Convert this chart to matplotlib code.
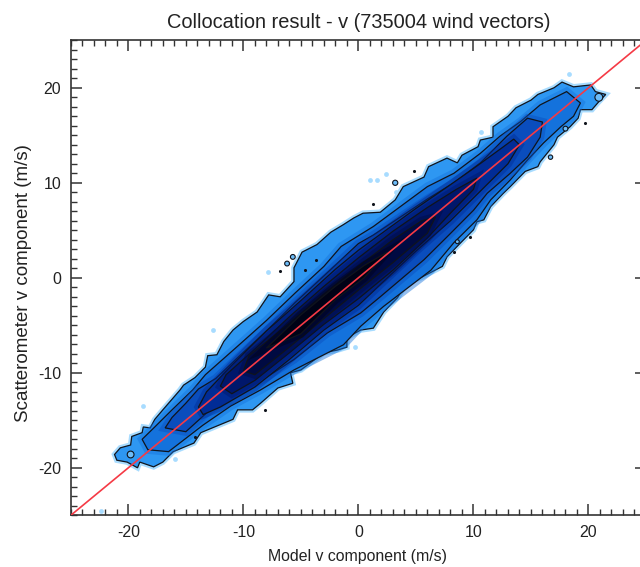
import matplotlib
matplotlib.use("Agg")
import matplotlib.pyplot as plt
from matplotlib.ticker import MultipleLocator

# density contours, each one is a closed outline (m/s)
level1_x = [-21.2, -20.7, -19.8, -19.7, -18.8, -18.7, -18.1, -17.7, -17.0, -16.5, -15.5, -15.2, -14.2, -13.3,
            -13.1, -12.3, -11.7, -10.9, -10.0, -8.8, -7.8, -6.8, -5.6, -5.6, -4.9, -3.6, -2.4, -1.3, -0.4, 0.4,
            1.9, 3.2, 3.9, 5.7, 6.1, 7.7, 8.6, 9.0, 10.4, 10.6, 11.7, 11.7, 13.0, 13.7, 15.0, 15.6, 17.0, 17.7,
            18.7, 20.2, 20.6, 21.5, 20.8, 20.3, 19.3, 19.1, 18.4, 17.3, 17.0, 15.8, 15.6, 14.5, 13.2, 12.6, 11.5,
            10.9, 10.3, 10.0, 8.9, 7.7, 7.3, 5.4, 4.8, 4.1, 3.4, 2.2, 1.3, 0.2, -1.0, -1.0, -1.8, -3.0, -5.0,
            -5.9, -5.7, -7.0, -8.5, -9.2, -10.5, -10.9, -11.7, -13.7, -14.3, -16.1, -17.0, -17.8, -19.0, -19.2,
            -20.1, -21.0]
level1_y = [-18.6, -17.9, -17.6, -16.7, -16.3, -15.7, -15.8, -14.9, -13.9, -13.2, -11.8, -11.3, -10.5, -9.4,
            -8.2, -8.1, -6.7, -5.5, -4.6, -3.6, -1.8, -2.0, -0.4, 1.05, 2.7, 3.5, 4.8, 5.6, 6.3, 6.8,
            6.9, 8.2, 9.6, 10.6, 11.7, 12.6, 12.1, 12.9, 13.8, 14.5, 14.8, 15.9, 17.0, 17.9, 18.7, 19.3, 20.0, 20.6,
            20.1, 20.3, 19.6, 19.3, 18.4, 17.7, 17.7, 16.8, 15.9, 14.8, 14.0, 12.2, 11.7, 11.2, 9.6, 8.9, 7.5,
            6.1, 5.9, 5.05, 3.7, 2.2, 1.2, 0.0, -0.2, -0.7, -2.1, -3.6, -5.3, -5.5, -6.3, -7.3, -7.6, -7.9, -9.7,
            -10.0, -11.1, -11.6, -13.2, -13.9, -13.9, -14.9, -15.3, -16.3, -17.4, -18.3, -19.4, -19.9, -19.4, -20.0,
            -19.4, -19.2]

level2_x = [-18.3, -18.8, -17.7, -16.2, -14.4, -13.3, -10.5, -8.0, -5.5, -3.0, -1.5, 1.3, 3.65, 6.0, 8.3, 10.6,
            12.3, 14.1, 15.8, 18.1, 19.3, 18.7, 17.6, 16.1, 14.7, 13.2, 11.5, 10.3, 8.3, 6.3, 2.2, 0.2, -1.3, -5.6,
            -8.5, -11.1, -13.5, -16.5]
level2_y = [-18.1, -17.0, -15.7, -13.9, -11.8, -10.2, -7.2, -4.5, -1.6, 1.2, 3.3, 5.4, 7.5, 9.6, 11.0, 13.1,
            14.9, 16.45, 18.2, 19.6, 18.4, 17.0, 15.9, 14.2, 12.4, 10.3, 8.2, 6.1, 3.7, 0.8, -3.0, -5.1, -7.05, -9.7,
            -11.8, -13.5, -15.5, -18.3]

level3_x = [-16.8, -16.2, -15.0, -13.9, -12.4, -10.5, -8.0, -5.5, -3.0, 0.0, 1.3, 3.65, 6.0, 8.3, 10.6, 12.9,
            14.7, 16.0, 15.8, 14.7, 13.2, 11.2, 10.0, 7.7, 5.7, 1.9, 0.2, -2.7, -5.6, -7.9, -10.5, -12.9, -15.0]
level3_y = [-15.8, -14.7, -13.2, -11.7, -10.6, -8.4, -5.6, -2.6, 0.2, 3.6, 4.5, 6.4, 8.3, 10.0, 12.1, 14.9,
            16.8, 16.4, 14.8, 12.7, 11.0, 8.9, 7.1, 4.3, 1.9, -2.0, -3.7, -5.8, -8.6, -10.4, -12.1, -13.9, -16.2]

level4_x = [-13.9, -13.2, -11.0, -8.0, -5.0, -2.0, 0.0, 5.0, 8.0, 10.0, 12.5, 13.5, 14.0, 13.0, 11.0, 8.0, 5.0,
            2.0, 0.0, -3.0, -6.0, -9.0, -12.0, -13.5]
level4_y = [-13.6, -12.0, -9.2, -5.6, -2.4, 0.9, 2.9, 7.3, 9.8, 11.5, 13.7, 14.6, 14.0, 12.0, 9.6, 6.0, 2.8,
            -0.6, -2.9, -5.5, -8.6, -11.5, -13.6, -14.4]

level5_x = [-12.0, -11.5, -9.0, -6.0, -3.0, 0.0, 3.0, 6.0, 8.5, 10.3, 10.0, 8.0, 6.0, 3.0, 0.0, -3.0, -6.0, -9.0, -11.0]
level5_y = [-11.4, -10.2, -7.5, -4.1, -0.9, 2.1, 4.9, 7.4, 9.3, 10.5, 9.3, 6.8, 4.2, 0.8, -2.2, -4.9, -7.9, -10.8, -12.2]

level6_x = [-10.0, -9.5, -6.0, -3.0, 0.0, 3.0, 5.5, 6.7, 6.0, 3.0, 0.0, -3.0, -6.0, -9.0]
level6_y = [-9.8, -8.2, -4.8, -1.7, 1.2, 4.0, 6.0, 6.4, 4.7, 1.6, -1.3, -4.3, -7.3, -10.2]

level7_x = [-8.0, -5.0, -2.0, 0.5, 2.5, 0.5, -2.0, -5.0]
level7_y = [-7.4, -3.9, -0.9, 1.3, 2.7, 0.0, -2.3, -5.9]

# isolated low count bins outside the main cloud
speckle_x = [1.0, 1.6, 2.4, 3.3, -0.3, -7.9, -12.6, -14.2, -18.7, -15.9, -22.4, 10.7, 4.8, 18.3, 6.8]
speckle_y = [10.3, 10.3, 10.9, 9.0, -7.3, 0.6, -5.5, -11.1, -13.5, -19.1, -24.5, 15.3, 4.4, 21.5, 4.0]
dot_x = [4.8, 1.3, 8.3, 9.7, 19.7, -6.8, -4.6, -3.7, -8.1, -14.2]
dot_y = [11.2, 7.8, 2.7, 4.3, 16.3, 0.7, 0.8, 1.9, -13.9, -16.8]
ring_x = [3.2, 20.9, -19.8, 16.7, -6.2, -5.7, 8.6, 18.0]
ring_y = [10.0, 19.0, -18.6, 12.7, 1.5, 2.2, 3.8, 15.7]
ring_size = [14, 32, 24, 10, 12, 12, 8, 12]

levels = [(level1_x, level1_y), (level2_x, level2_y), (level3_x, level3_y), (level4_x, level4_y),
          (level5_x, level5_y), (level6_x, level6_y), (level7_x, level7_y)]
level_colors = ["#2e97f2", "#1472dc", "#0a4dbd", "#012c96", "#00176b", "#000a42", "#000216"]

major_ticks = [-20, -10, 0, 10, 20]
tick_labels = ["-20", "-10", "0", "10", "20"]

plt.rcParams["font.family"] = ["Liberation Sans", "DejaVu Sans"]

fig = plt.figure(figsize=(6.4, 5.67), dpi=100)
# right spine falls just outside the saved image, same as the reference
ax = fig.add_axes([70.8 / 640, 51.7 / 567, 575.2 / 640, 475 / 567])

ax.scatter(speckle_x, speckle_y, s=12, color="#a8dcff", linewidths=0, zorder=1)
ax.fill(level1_x, level1_y, facecolor="none", edgecolor="#a8dcff", linewidth=4.0, zorder=1)

for i, (xs, ys) in enumerate(levels):
    # wide soft stroke first so neighbouring bands blend a bit, the original is smoothed
    if i > 0:
        ax.fill(xs, ys, facecolor="none", edgecolor=level_colors[i], alpha=0.45, linewidth=6, zorder=2 + i)
    ax.fill(xs, ys, facecolor=level_colors[i], edgecolor="#10141c", linewidth=0.9, zorder=2 + i)

ax.scatter(ring_x, ring_y, s=ring_size, facecolor="#6cbcf8", edgecolor="#10141c", linewidths=0.8, zorder=9)
ax.scatter(dot_x, dot_y, s=5, color="#10141c", linewidths=0, zorder=9)

ax.plot([-25, 25], [-25, 25], color="#f53a45", linewidth=1.2, zorder=10)

ax.set_xlim(-25, 25)
ax.set_ylim(-25, 25)
ax.set_xticks(major_ticks)
ax.set_xticklabels(tick_labels)
ax.set_yticks(major_ticks)
ax.set_yticklabels(tick_labels)
ax.xaxis.set_minor_locator(MultipleLocator(1))
ax.yaxis.set_minor_locator(MultipleLocator(1))
ax.tick_params(which="major", direction="in", length=8, width=1.1, color="#333333",
               top=True, right=True, labelsize=11.5, pad=7, labelcolor="#222222")
ax.tick_params(which="minor", direction="in", length=4, width=1.0, color="#333333", top=True, right=True)
for spine in ax.spines.values():
    spine.set_linewidth(1.2)
    spine.set_color("#333333")

fig.text(358.5 / 640, 1 - 22 / 567, "Collocation result - v (735004 wind vectors)",
         ha="center", va="center", fontsize=14.4, color="#222222")
fig.text(358 / 640, 1 - 556 / 567, "Model v component (m/s)", ha="center", va="center",
         fontsize=11.4, color="#222222")
fig.text(24 / 640, 1 - 283 / 567, "Scatterometer v component (m/s)", ha="center", va="center",
         rotation=90, fontsize=13.5, color="#222222")

fig.savefig("out.png", dpi=100)
plt.close(fig)
